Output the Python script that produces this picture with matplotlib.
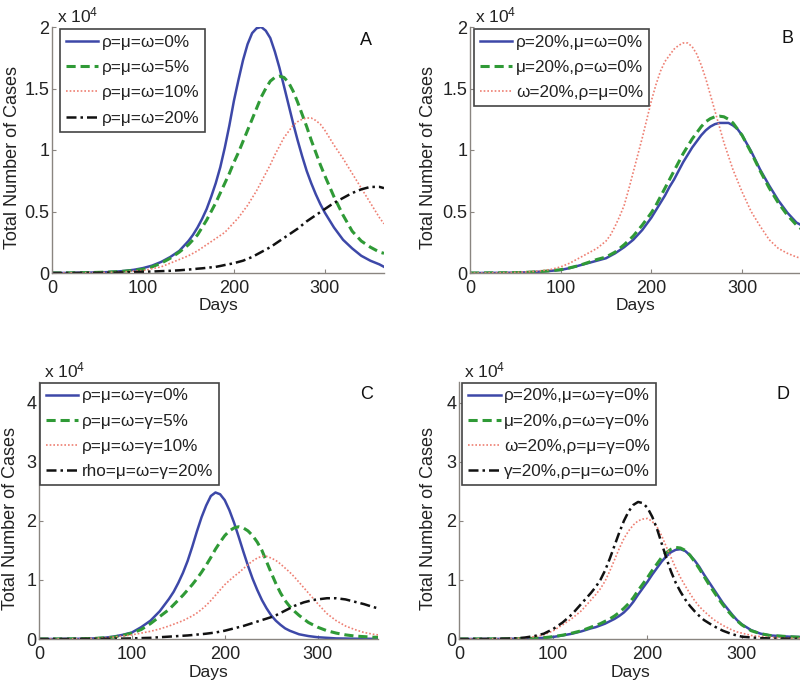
import matplotlib
matplotlib.use("Agg")
import matplotlib.pyplot as plt

plt.rcParams['font.family'] = ['Liberation Sans', 'DejaVu Sans']
plt.rcParams['mathtext.fontset'] = 'custom'
plt.rcParams['mathtext.rm'] = 'Liberation Sans'
plt.rcParams['mathtext.it'] = 'Liberation Sans:italic'

# === Données (nombre de cas, en unités de 10^4) ===
# pas de 10 jours, resserré à 5 jours autour des pics
days = [0, 10, 20, 30, 40, 50, 60, 70, 80, 90, 100, 110, 120, 130, 140,
        145, 150, 155, 160, 165, 170, 175, 180, 185, 190, 195, 200, 205, 210, 215, 220,
        225, 230, 235, 240, 245, 250, 255, 260, 265, 270, 275, 280, 285, 290, 295, 300,
        310, 320, 330, 340, 350, 360, 365]

# Panneau A
a_labels = ["ρ=μ=ω=0%", "ρ=μ=ω=5%", "ρ=μ=ω=10%", "ρ=μ=ω=20%"]
a_0 = [0, 0, 0.001, 0.002, 0.003, 0.005, 0.007, 0.011, 0.017, 0.026, 0.04, 0.06, 0.09, 0.13, 0.18,
       0.22, 0.26, 0.31, 0.37, 0.44, 0.52, 0.62, 0.73, 0.86, 1.02, 1.20, 1.40, 1.57, 1.73, 1.86,
       1.95, 1.99, 2.0, 1.97, 1.91, 1.80, 1.67, 1.52, 1.37, 1.22, 1.08, 0.95, 0.83, 0.73, 0.64,
       0.56, 0.49,
       0.37, 0.27, 0.20, 0.14, 0.10, 0.07, 0.05]
a_5 = [0, 0, 0.001, 0.002, 0.003, 0.005, 0.007, 0.01, 0.015, 0.022, 0.03, 0.05, 0.08, 0.12, 0.17,
       0.20, 0.23, 0.27, 0.31, 0.37, 0.43, 0.50, 0.57, 0.65, 0.73, 0.81, 0.90, 0.98, 1.07, 1.16,
       1.25, 1.34, 1.43, 1.50, 1.56, 1.59, 1.60, 1.59, 1.55, 1.48, 1.39, 1.29, 1.19, 1.08, 0.98,
       0.88, 0.79,
       0.62, 0.47, 0.34, 0.26, 0.21, 0.17, 0.16]
a_10 = [0, 0, 0.001, 0.001, 0.002, 0.003, 0.005, 0.007, 0.01, 0.015, 0.02, 0.035, 0.05, 0.08, 0.11,
        0.125, 0.14, 0.16, 0.18, 0.205, 0.23, 0.255, 0.28, 0.305, 0.33, 0.37, 0.41, 0.45, 0.50,
        0.55, 0.61, 0.67, 0.74, 0.81, 0.88, 0.96, 1.03, 1.10, 1.15, 1.20, 1.23, 1.25, 1.26, 1.26,
        1.24, 1.21, 1.16,
        1.04, 0.93, 0.81, 0.69, 0.57, 0.45, 0.40]
a_20 = [0, 0, 0, 0.001, 0.001, 0.001, 0.002, 0.003, 0.005, 0.007, 0.01, 0.012, 0.015, 0.018, 0.022,
        0.025, 0.028, 0.031, 0.035, 0.038, 0.042, 0.046, 0.05, 0.057, 0.065, 0.072, 0.08, 0.09,
        0.10, 0.115, 0.13, 0.15, 0.17, 0.19, 0.21, 0.235, 0.26, 0.285, 0.31, 0.335, 0.36, 0.39,
        0.42, 0.445, 0.47, 0.495, 0.52,
        0.57, 0.61, 0.65, 0.68, 0.70, 0.70, 0.69]

# Panneau B
b_labels = ["ρ=20%,μ=ω=0%", "μ=20%,ρ=ω=0%", "ω=20%,ρ=μ=0%"]
b_rho = [0, 0, 0.001, 0.001, 0.002, 0.003, 0.005, 0.008, 0.012, 0.018, 0.025, 0.04, 0.06, 0.08, 0.10,
         0.11, 0.12, 0.14, 0.16, 0.185, 0.21, 0.24, 0.27, 0.31, 0.35, 0.40, 0.45, 0.51, 0.57, 0.63,
         0.70, 0.76, 0.83, 0.90, 0.96, 1.02, 1.07, 1.12, 1.16, 1.19, 1.21, 1.22, 1.22, 1.22, 1.20,
         1.17, 1.12,
         0.99, 0.84, 0.71, 0.59, 0.49, 0.41, 0.39]
b_mu = [0, 0, 0.001, 0.001, 0.002, 0.003, 0.005, 0.008, 0.013, 0.019, 0.027, 0.042, 0.06, 0.085, 0.11,
        0.12, 0.13, 0.15, 0.17, 0.20, 0.23, 0.265, 0.30, 0.345, 0.39, 0.44, 0.49, 0.55, 0.62, 0.69,
        0.76, 0.83, 0.90, 0.97, 1.03, 1.09, 1.14, 1.19, 1.23, 1.255, 1.27, 1.275, 1.27, 1.25, 1.22,
        1.17, 1.12,
        0.98, 0.83, 0.69, 0.57, 0.47, 0.39, 0.36]
b_omega = [0, 0, 0.001, 0.002, 0.003, 0.005, 0.008, 0.013, 0.02, 0.03, 0.05, 0.08, 0.12, 0.16, 0.20,
           0.23, 0.26, 0.31, 0.38, 0.46, 0.55, 0.68, 0.82, 0.96, 1.10, 1.25, 1.40, 1.53, 1.64, 1.72,
           1.77, 1.82, 1.85, 1.87, 1.87, 1.84, 1.78, 1.69, 1.58, 1.45, 1.32, 1.19, 1.06, 0.95, 0.84,
           0.75, 0.66,
           0.50, 0.38, 0.27, 0.20, 0.16, 0.13, 0.12]

# Panneau C
c_labels = ["ρ=μ=ω=γ=0%", "ρ=μ=ω=γ=5%", "ρ=μ=ω=γ=10%", "rho=μ=ω=γ=20%"]
c_0 = [0, 0, 0.001, 0.002, 0.003, 0.006, 0.01, 0.02, 0.04, 0.07, 0.11, 0.20, 0.31, 0.47, 0.68,
       0.80, 0.95, 1.12, 1.32, 1.56, 1.82, 2.06, 2.26, 2.42, 2.48, 2.45, 2.35, 2.18, 1.97, 1.73,
       1.48, 1.24, 1.02, 0.83, 0.66, 0.52, 0.40, 0.31, 0.24, 0.18, 0.14, 0.11, 0.08, 0.065, 0.05,
       0.04, 0.03,
       0.02, 0.01, 0.008, 0.005, 0.004, 0.003, 0.002]
c_5 = [0, 0, 0.001, 0.002, 0.003, 0.006, 0.01, 0.02, 0.03, 0.06, 0.10, 0.16, 0.26, 0.38, 0.50,
       0.58, 0.66, 0.74, 0.83, 0.92, 1.02, 1.13, 1.25, 1.38, 1.52, 1.64, 1.75, 1.83, 1.88, 1.90,
       1.88, 1.83, 1.75, 1.64, 1.50, 1.31, 1.12, 0.94, 0.78, 0.65, 0.55, 0.47, 0.40, 0.34, 0.28,
       0.24, 0.20,
       0.14, 0.10, 0.07, 0.05, 0.04, 0.03, 0.03]
c_10 = [0, 0, 0.001, 0.002, 0.003, 0.006, 0.01, 0.02, 0.03, 0.05, 0.07, 0.10, 0.13, 0.17, 0.22,
        0.25, 0.28, 0.31, 0.35, 0.39, 0.44, 0.50, 0.57, 0.65, 0.74, 0.83, 0.92, 0.99, 1.06, 1.12,
        1.19, 1.26, 1.32, 1.37, 1.40, 1.40, 1.37, 1.33, 1.27, 1.20, 1.13, 1.05, 0.96, 0.87, 0.78,
        0.69, 0.60,
        0.43, 0.31, 0.22, 0.16, 0.11, 0.08, 0.07]
c_20 = [0, 0, 0, 0.001, 0.001, 0.002, 0.002, 0.003, 0.005, 0.007, 0.01, 0.015, 0.02, 0.03, 0.04,
        0.045, 0.05, 0.055, 0.06, 0.067, 0.075, 0.082, 0.09, 0.10, 0.11, 0.125, 0.14, 0.16, 0.18,
        0.20, 0.22, 0.245, 0.27, 0.295, 0.32, 0.345, 0.37, 0.40, 0.44, 0.48, 0.52, 0.56, 0.59,
        0.62, 0.64, 0.66, 0.67,
        0.69, 0.69, 0.67, 0.63, 0.59, 0.54, 0.52]

# Panneau D
d_labels = ["ρ=20%,μ=ω=γ=0%", "μ=20%,ρ=ω=γ=0%", "ω=20%,ρ=μ=γ=0%", "γ=20%,ρ=μ=ω=0%"]
d_rho = [0, 0, 0.001, 0.001, 0.002, 0.003, 0.005, 0.007, 0.01, 0.02, 0.035, 0.06, 0.09, 0.13, 0.18,
         0.20, 0.23, 0.26, 0.30, 0.34, 0.39, 0.45, 0.53, 0.63, 0.75, 0.86, 0.97, 1.09, 1.20, 1.31,
         1.40, 1.47, 1.51, 1.52, 1.49, 1.42, 1.33, 1.22, 1.09, 0.97, 0.85, 0.73, 0.61, 0.51, 0.41,
         0.32, 0.25,
         0.15, 0.09, 0.06, 0.05, 0.04, 0.035, 0.03]
d_mu = [0, 0, 0.001, 0.001, 0.002, 0.003, 0.005, 0.008, 0.012, 0.022, 0.04, 0.065, 0.10, 0.14, 0.20,
        0.23, 0.26, 0.30, 0.34, 0.39, 0.45, 0.52, 0.60, 0.70, 0.82, 0.93, 1.04, 1.16, 1.27, 1.38,
        1.46, 1.52, 1.55, 1.54, 1.50, 1.42, 1.31, 1.19, 1.06, 0.93, 0.81, 0.69, 0.58, 0.48, 0.39,
        0.31, 0.24,
        0.14, 0.09, 0.06, 0.05, 0.04, 0.03, 0.03]
d_omega = [0, 0, 0.001, 0.002, 0.003, 0.005, 0.01, 0.02, 0.04, 0.07, 0.14, 0.24, 0.35, 0.48, 0.66,
           0.75, 0.85, 0.98, 1.15, 1.34, 1.53, 1.70, 1.83, 1.93, 2.00, 2.03, 2.04, 1.99, 1.90, 1.75,
           1.56, 1.38, 1.20, 1.04, 0.90, 0.77, 0.65, 0.55, 0.47, 0.40, 0.33, 0.28, 0.23, 0.19, 0.15,
           0.12, 0.10,
           0.06, 0.04, 0.03, 0.02, 0.015, 0.01, 0.01]
d_gamma = [0, 0, 0.001, 0.002, 0.003, 0.005, 0.01, 0.025, 0.05, 0.09, 0.17, 0.28, 0.42, 0.60, 0.78,
           0.88, 1.00, 1.16, 1.36, 1.58, 1.80, 2.00, 2.16, 2.27, 2.32, 2.30, 2.22, 2.07, 1.87, 1.62,
           1.37, 1.14, 0.95, 0.80, 0.67, 0.56, 0.47, 0.39, 0.32, 0.27, 0.22, 0.18, 0.14, 0.11, 0.08,
           0.06, 0.04,
           0.025, 0.015, 0.01, 0.008, 0.005, 0.004, 0.003]

for serie in [a_0, a_5, a_10, a_20, b_rho, b_mu, b_omega, c_0, c_5, c_10, c_20,
              d_rho, d_mu, d_omega, d_gamma]:
    assert len(serie) == len(days), len(serie)

# === Styles ===
styles = [
    dict(color="#3d48a8", lw=1.8, ls="-"),
    dict(color="#2f9a36", lw=2.2, ls=(0, (3, 1.6))),
    dict(color="#ee7f72", lw=1.2, ls=(0, (1, 1.2))),
    dict(color="#111111", lw=1.8, ls=(0, (4, 1.6, 1, 1.6))),
]

W, H = 800, 686
fig = plt.figure(figsize=(W / 100, H / 100), dpi=100)
fig.patch.set_facecolor("white")


def make_axes(left, right, bottom, top):
    return fig.add_axes([left / W, (H - bottom) / H, (right - left) / W, (bottom - top) / H])


panels = [
    dict(box=(52, 384, 273, 27), series=[a_0, a_5, a_10, a_20], labels=a_labels, sty=[0, 1, 2, 3],
         ytop=2.0, yticks=[0, 0.5, 1, 1.5, 2], yticklabels=["0", "0.5", "1", "1.5", "2"],
         letter="A", lpos=(0.945, 0.947), leg=(0.024, 0.992), ylx=-0.093, xly=-0.10),
    dict(box=(470, 801, 273, 27), series=[b_rho, b_mu, b_omega], labels=b_labels, sty=[0, 1, 2],
         ytop=2.0, yticks=[0, 0.5, 1, 1.5, 2], yticklabels=["0", "0.5", "1", "1.5", "2"],
         letter="B", lpos=(0.96, 0.955), leg=(0.012, 0.992), ylx=-0.10, xly=-0.10),
    dict(box=(39, 378, 639, 382), series=[c_0, c_5, c_10, c_20], labels=c_labels, sty=[0, 1, 2, 3],
         ytop=4.35, yticks=[0, 1, 2, 3, 4], yticklabels=["0", "1", "2", "3", "4"],
         letter="C", lpos=(0.966, 0.951), leg=(0.003, 0.998), ylx=-0.059, xly=-0.102),
    dict(box=(459, 803, 639, 382), series=[d_rho, d_mu, d_omega, d_gamma], labels=d_labels,
         sty=[0, 1, 2, 3],
         ytop=4.35, yticks=[0, 1, 2, 3, 4], yticklabels=["0", "1", "2", "3", "4"],
         letter="D", lpos=(0.942, 0.951), leg=(0.009, 0.998), ylx=-0.064, xly=-0.102),
]

for p in panels:
    ax = make_axes(*p["box"])
    for vals, lab, k in zip(p["series"], p["labels"], p["sty"]):
        ax.plot(days, vals, label=lab, **styles[k])
    ax.set_xlim(0, 365)
    ax.set_ylim(0, p["ytop"])
    ax.set_xticks([0, 100, 200, 300])
    ax.set_yticks(p["yticks"])
    ax.set_yticklabels(p["yticklabels"])
    for s in ["top", "right"]:
        ax.spines[s].set_visible(False)
    for s in ["left", "bottom"]:
        ax.spines[s].set_color("#8a8580")
        ax.spines[s].set_linewidth(1.0)
    ax.tick_params(direction="in", length=3, width=0.8, color="#8a8580",
                   labelsize=13, labelcolor="#222222")
    ax.tick_params(axis="x", pad=5)
    ax.tick_params(axis="y", pad=2)
    ax.set_xlabel("Days", fontsize=12.5, color="#222222")
    ax.set_ylabel("Total Number of Cases", fontsize=13, color="#222222")
    ax.yaxis.set_label_coords(p["ylx"], 0.47)
    ax.xaxis.set_label_coords(0.5, p["xly"])
    ax.text(0.015, 1.005, r"x 10$^{4}$", transform=ax.transAxes, fontsize=12.5,
            color="#222222", ha="left", va="bottom")
    ax.text(p["lpos"][0], p["lpos"][1], p["letter"], transform=ax.transAxes, fontsize=13,
            color="#111111", ha="center", va="center")
    leg = ax.legend(loc="upper left", bbox_to_anchor=p["leg"], borderaxespad=0, fontsize=12.3,
                    handlelength=1.9, handletextpad=0.2, labelspacing=0.6, borderpad=0.35,
                    fancybox=False, framealpha=1, edgecolor="#444444")
    leg.get_frame().set_linewidth(1.2)
    for t in leg.get_texts():
        t.set_color("#222222")

fig.savefig("out.png", dpi=100, facecolor="white")
